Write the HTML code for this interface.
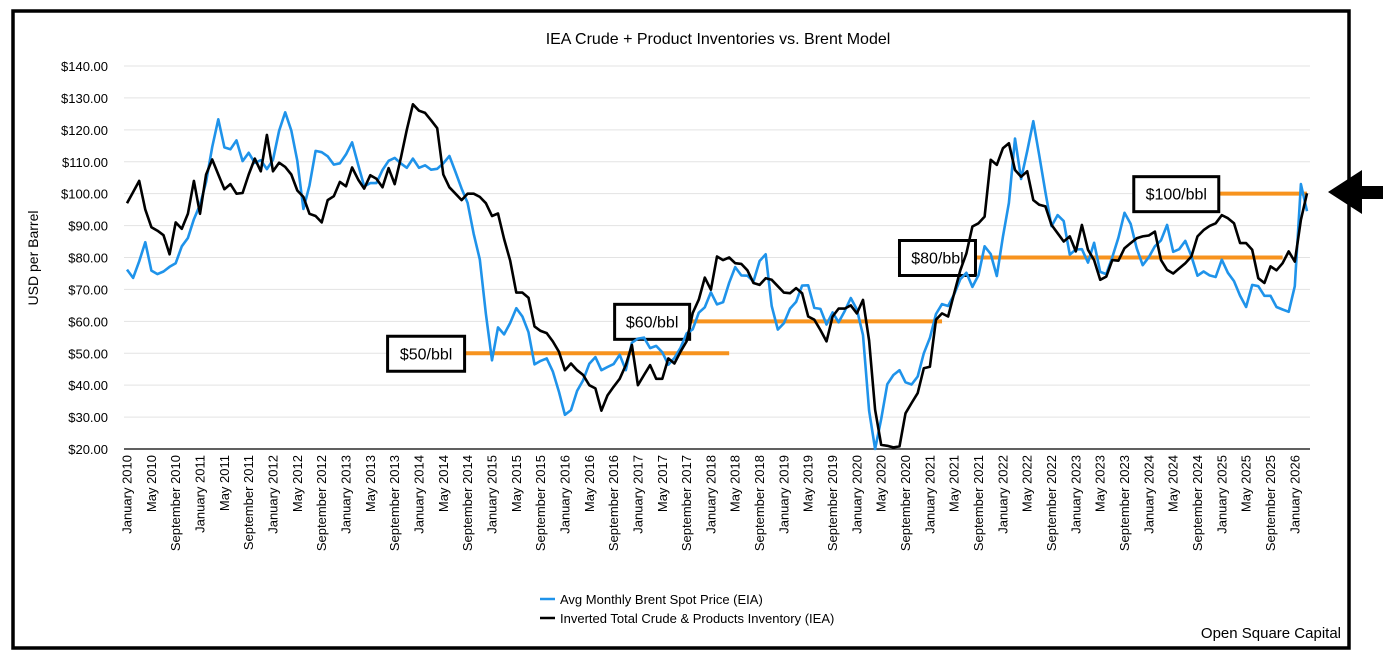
<!DOCTYPE html>
<html><head><meta charset="utf-8"><style>
html,body{margin:0;padding:0;background:#fff;}
svg{display:block;font-family:"Liberation Sans",Arial,sans-serif;}
</style></head><body>
<svg id="chart" width="1394" height="666" viewBox="0 0 1394 666">
<rect x="13" y="11" width="1336" height="637" fill="#fff" stroke="#000" stroke-width="3.5"/>
<text x="718" y="44" text-anchor="middle" font-size="16">IEA Crude + Product Inventories vs. Brent Model</text>
<text transform="translate(38,258) rotate(-90)" text-anchor="middle" font-size="14">USD per Barrel</text>
<g id="grid"></g>
<g id="yticks"></g>
<g id="xticks"></g>
<g id="levels"></g>
<g id="series"></g>
<g>
<g><line x1="540" y1="599" x2="555" y2="599" stroke="#1f93ea" stroke-width="2.5"/><text x="560" y="604" font-size="13">Avg Monthly Brent Spot Price (EIA)</text></g>
<g><line x1="540" y1="618" x2="555" y2="618" stroke="#000" stroke-width="2.5"/><text x="560" y="623" font-size="13">Inverted Total Crude &amp; Products Inventory (IEA)</text></g>
</g>
<text x="1341" y="638" text-anchor="end" font-size="15">Open Square Capital</text>
<polygon points="1328,192 1362,170 1362,186 1383,186 1383,199 1362,199 1362,214" fill="#000"/>
</svg>
<script>
const brent = [76.2,73.6,78.8,84.8,75.9,74.8,75.6,77.1,78.2,83.5,86.1,92.0,
96.5,103.7,114.6,123.3,114.5,113.9,116.7,110.2,112.8,109.6,110.5,107.7,
110.6,119.7,125.5,119.8,110.3,95.2,102.6,113.4,113.0,111.7,109.1,109.5,
112.3,116.1,109.0,102.3,103.3,103.3,107.4,110.3,111.2,109.5,108.1,111.0,
108.1,108.9,107.5,107.8,109.5,111.8,106.8,101.6,97.1,87.4,79.4,62.3,
47.8,58.1,55.9,59.5,64.1,61.5,56.6,46.5,47.6,48.4,44.3,38.0,
30.7,32.2,38.2,41.6,46.7,48.8,44.7,45.7,46.6,49.5,44.7,53.3,
54.6,54.9,51.6,52.3,50.3,46.4,48.5,51.7,56.2,57.5,62.7,64.4,
69.1,65.3,66.0,72.1,77.0,74.4,74.3,72.5,78.9,81.0,64.8,57.4,
59.4,64.0,66.1,71.2,71.3,64.2,63.9,59.0,62.8,59.7,63.2,67.3,
63.7,55.7,32.0,20.0,29.4,40.3,43.2,44.7,40.9,40.2,42.7,50.0,
54.8,62.3,65.4,64.8,68.5,73.2,75.2,70.8,74.5,83.5,81.1,74.2,
86.5,97.1,117.3,104.6,113.3,122.7,111.9,100.5,89.8,93.3,91.4,80.9,
82.5,82.6,78.4,84.6,75.5,74.8,80.1,86.2,94.0,90.6,82.9,77.6,
80.1,83.5,85.4,90.2,81.8,82.6,85.2,80.4,74.3,75.6,74.4,73.9,
79.3,75.2,72.6,68.0,64.5,71.4,71.0,68.0,68.0,64.5,63.7,63.0,
71.0,103.0,94.5];
const inventory = [97,100.5,104,95,89.5,88.4,87,81,91,89,93.7,104,
93.7,106,110.7,106,101.4,103,100,100.2,106,111,107,118.4,
107,109.7,108.4,106,101,99,93.7,93,91,98,99.2,103.7,
102.3,108.2,104.4,101.6,105.8,104.7,102,108,103,111,120,128,
126,125.3,123,120.5,106,102,100,98,100,100,99,97,
93,93.8,85.8,79,69,69,67.4,58.4,57,56.3,53.7,50.5,
44.7,46.8,44.7,43.2,40,39,32,36.8,39.5,42,46.3,52.6,
40,43.2,46.3,42,42,48.4,46.8,50.5,53.7,62.6,66.8,73.7,
69.9,80.3,79.2,80,78.2,78,76,72,71.4,73.5,73,71,
69,68.8,70.4,68.8,61.5,60.5,57.3,53.7,61.5,64,64,65,
62.5,66.7,54,32.3,21.3,21,20.5,20.8,31.2,34.4,37.5,45.3,
45.8,60.5,62.5,61.5,68.8,76,81.3,89.7,90.7,92.8,110.6,109,
114.2,115.8,107.4,105.3,107,98,96.5,96,90.2,87.6,85,86.6,
81.9,90.2,82.4,79.2,73,74,79.2,79,82.9,84.5,86,86.6,
86.9,88.1,79.2,76.1,75,76.6,78.2,80.3,86.6,88.6,89.9,90.7,
93.3,92.3,90.7,84.5,84.5,82.4,73.5,72,77.2,76,78.2,81.9,
78.7,91.8,100.1];
const yTicks = [20,30,40,50,60,70,80,90,100,110,120,130,140];
const monthNames = ["January","May","September"];
const levelValues = [50,60,80,100];
const levelLabels = ["$50/bbl","$60/bbl","$80/bbl","$100/bbl"];
const levelStartMonth = [56,93,140,180];
const levelEndMonth = [99,134,190,194];

const NS = "http://www.w3.org/2000/svg";
const X0 = 124, X1 = 1310, Y0 = 449, YT = 66;
const nCat = brent.length;
const catW = (X1 - X0) / nCat;
function xPos(i){ return X0 + catW * (i + 0.5); }
function yPos(v){ return Y0 - (v - 20) * (Y0 - YT) / 120; }
function mk(tag, attrs, parent){ const e = document.createElementNS(NS, tag); for (const k in attrs) e.setAttribute(k, attrs[k]); parent.appendChild(e); return e; }

const grid = document.getElementById('grid');
const yt = document.getElementById('yticks');
yTicks.forEach(v => {
  if (v > 20) {
    const l = mk('line', {x1: X0, x2: X1, y1: yPos(v), y2: yPos(v), stroke: '#e3e3e3', 'stroke-width': 1}, grid);
    
    
  }
  const t = mk('text', {x: 108, y: yPos(v) + 5, 'text-anchor': 'end', 'font-size': 13}, yt);
  t.textContent = '$' + v.toFixed(2);
  
  
});
const axis = mk('line', {x1: X0, x2: X1, y1: Y0, y2: Y0, stroke: '#000', 'stroke-width': 1.2}, grid);



const xt = document.getElementById('xticks');
for (let i = 0; i < nCat; i += 4) {
  const yr = 2010 + Math.floor(i / 12);
  const label = monthNames[(i % 12) / 4] + ' ' + yr;
  const x = xPos(i);
  const t = mk('text', {transform: 'translate(' + (x + 4.5) + ',' + (Y0 + 6) + ') rotate(-90)', 'text-anchor': 'end', 'font-size': 13}, xt);
  t.textContent = label;
  
  
}

const sg = document.getElementById('series');
function pathFor(arr){ return arr.map((v, i) => (i ? 'L' : 'M') + xPos(i).toFixed(1) + ',' + yPos(Math.max(20, v)).toFixed(1)).join(''); }
const pb = mk('path', {d: pathFor(brent), fill: 'none', stroke: '#1f93ea', 'stroke-width': 2.6, 'stroke-linejoin': 'round'}, sg);


const pi = mk('path', {d: pathFor(inventory), fill: 'none', stroke: '#000', 'stroke-width': 2.6, 'stroke-linejoin': 'round'}, sg);



const lg = document.getElementById('levels');
const boxW = [77, 75, 76, 85];
levelValues.forEach((v, k) => {
  const y = yPos(v);
  const xs = xPos(levelStartMonth[k]) - catW * 0.5, xe = xPos(levelEndMonth[k]);
  const l = mk('line', {x1: xs, x2: xe, y1: y, y2: y, stroke: '#f7931e', 'stroke-width': 4}, lg);
  
  
  const r = mk('rect', {x: xs - boxW[k], y: y - 17, width: boxW[k], height: 35, fill: '#fff', stroke: '#000', 'stroke-width': 3}, lg);
  
  
  const t = mk('text', {x: xs - boxW[k] / 2, y: y + 6, 'text-anchor': 'middle', 'font-size': 16}, lg);
  t.textContent = levelLabels[k];
  
  
});
</script>
</body></html>
